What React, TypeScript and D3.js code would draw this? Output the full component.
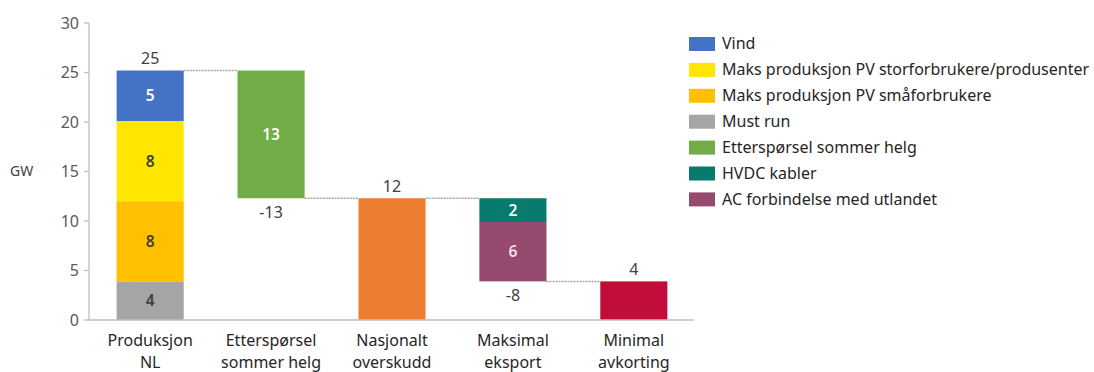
import React from "react";
import * as d3 from "d3";

const categories = [
  ["Produksjon", "NL"],
  ["Etterspørsel", "sommer helg"],
  ["Nasjonalt", "overskudd"],
  ["Maksimal", "eksport"],
  ["Minimal", "avkorting"],
];

const seriesNames = [
  "Vind",
  "Maks produksjon PV storforbrukere/produsenter",
  "Maks produksjon PV småforbrukere",
  "Must run",
  "Etterspørsel sommer helg",
  "HVDC kabler",
  "AC forbindelse med utlandet",
];
const seriesColors = ["#4472C4", "#FFE600", "#FFC000", "#A5A5A5", "#70AD47", "#087A6E", "#964A70"];
const seriesLabelColors = ["#ffffff", "#404040", "#404040", "#404040", "#ffffff", "#ffffff", "#f3dde6"];

// produksjon stacked bottom->top: Must run, PV små, PV stor, Vind
const produksjonSeries = [3, 2, 1, 0];
const produksjonValues = [3.9, 8.1, 8.1, 5.1];
const ettersporselValue = -12.9;
const eksportSeries = [5, 6];
const eksportValues = [-2.4, -6.0];
const overskuddColor = "#ED7D31";
const avkortingColor = "#C20D3A";

const yTicks = [0, 5, 10, 15, 20, 25, 30];

const W = 1094, H = 372;
const x = d3.scaleBand<number>().domain(d3.range(5)).range([90, 694]).paddingInner(0.445).paddingOuter(0.22);
const y = d3.scaleLinear().domain([0, 30]).range([320, 23]);

type Seg = { y0: number; y1: number; color: string; label?: string; labelColor?: string };

export default function App() {
  const font = "'Noto Sans', sans-serif";
  const total = d3.sum(produksjonValues);
  const overskudd = total + ettersporselValue;
  const avkorting = overskudd + d3.sum(eksportValues);

  const bars: Seg[][] = [];
  let acc = 0;
  bars.push(produksjonSeries.map((s, i) => {
    const seg = { y0: acc, y1: acc + produksjonValues[i], color: seriesColors[s], label: String(Math.round(produksjonValues[i])), labelColor: seriesLabelColors[s] };
    acc += produksjonValues[i];
    return seg;
  }));
  bars.push([{ y0: total + ettersporselValue, y1: total, color: seriesColors[4], label: String(Math.round(-ettersporselValue)), labelColor: seriesLabelColors[4] }]);
  bars.push([{ y0: 0, y1: overskudd, color: overskuddColor }]);
  let top = overskudd;
  bars.push(eksportSeries.map((s, i) => {
    const seg = { y0: top + eksportValues[i], y1: top, color: seriesColors[s], label: String(Math.round(-eksportValues[i])), labelColor: seriesLabelColors[s] };
    top += eksportValues[i];
    return seg;
  }));
  bars.push([{ y0: 0, y1: avkorting, color: avkortingColor }]);

  // totals: above for totals, below for decreases
  const totals = [
    { i: 0, v: total, above: true },
    { i: 1, v: ettersporselValue, above: false, at: overskudd },
    { i: 2, v: overskudd, above: true },
    { i: 3, v: d3.sum(eksportValues), above: false, at: avkorting },
    { i: 4, v: avkorting, above: true },
  ];
  const connectors = [
    { from: 0, level: total },
    { from: 1, level: overskudd },
    { from: 2, level: overskudd },
    { from: 3, level: avkorting },
  ];
  const bw = x.bandwidth();

  return (
    <svg width={W} height={H} style={{ position: "absolute", left: 0, top: 0 }} fontFamily={font}>
      <rect width={W} height={H} fill="#fff" />
      {/* y axis */}
      <line x1={89} x2={89} y1={y(30)} y2={y(0)} stroke="#BFBFBF" strokeWidth={1.3} />
      {yTicks.map((t) => (
        <g key={t}>
          <line x1={84} x2={89} y1={y(t)} y2={y(t)} stroke="#BFBFBF" strokeWidth={1.3} />
          <text x={79} y={y(t)} dy="0.35em" textAnchor="end" fontSize={16} fill="#595959">{t}</text>
        </g>
      ))}
      <text x={10} y={y(15)} dy="0.35em" fontSize={14} fill="#404040">GW</text>
      {/* connectors */}
      {connectors.map((c, k) => (
        <line key={k} x1={x(c.from)! + bw} x2={x(c.from + 1)!} y1={y(c.level)} y2={y(c.level)} stroke="#A6A6A6" strokeWidth={1.5} strokeDasharray="2,1" />
      ))}
      {/* bars */}
      {bars.map((segs, i) => segs.map((s, j) => (
        <g key={`${i}-${j}`}>
          <rect x={x(i)} y={y(s.y1)} width={bw} height={y(s.y0) - y(s.y1)} fill={s.color} />
          {s.label && (
            <text x={x(i)! + bw / 2} y={(y(s.y0) + y(s.y1)) / 2} dy="0.35em" textAnchor="middle" fontSize={15.5} fontWeight={600} fill={s.labelColor}>{s.label}</text>
          )}
        </g>
      )))}
      {totals.map((t) => (
        <text key={t.i} x={x(t.i)! + bw / 2} y={t.above ? y(t.v) - 12 : y(t.at!) + 14} dy="0.35em" textAnchor="middle" fontSize={16} fill="#404040">{Math.round(t.v)}</text>
      ))}
      {/* x axis */}
      <line x1={89} x2={694} y1={y(0)} y2={y(0)} stroke="#BFBFBF" strokeWidth={1.3} />
      {categories.map((lines, i) => (
        <text key={i} x={x(i)! + bw / 2} y={340} textAnchor="middle" fontSize={16} fill="#262626">
          {lines.map((l, k) => (
            <tspan key={k} x={x(i)! + bw / 2} dy={k === 0 ? "0.35em" : 22}>{l}</tspan>
          ))}
        </text>
      ))}
      {/* legend */}
      {seriesNames.map((n, i) => (
        <g key={n} transform={`translate(689, ${43.5 + i * 25.9})`}>
          <rect x={0} y={-6.5} width={26} height={14} fill={seriesColors[i]} />
          <text x={33} y={0} dy="0.35em" fontSize={16} fill="#262626">{n}</text>
        </g>
      ))}
    </svg>
  );
}
